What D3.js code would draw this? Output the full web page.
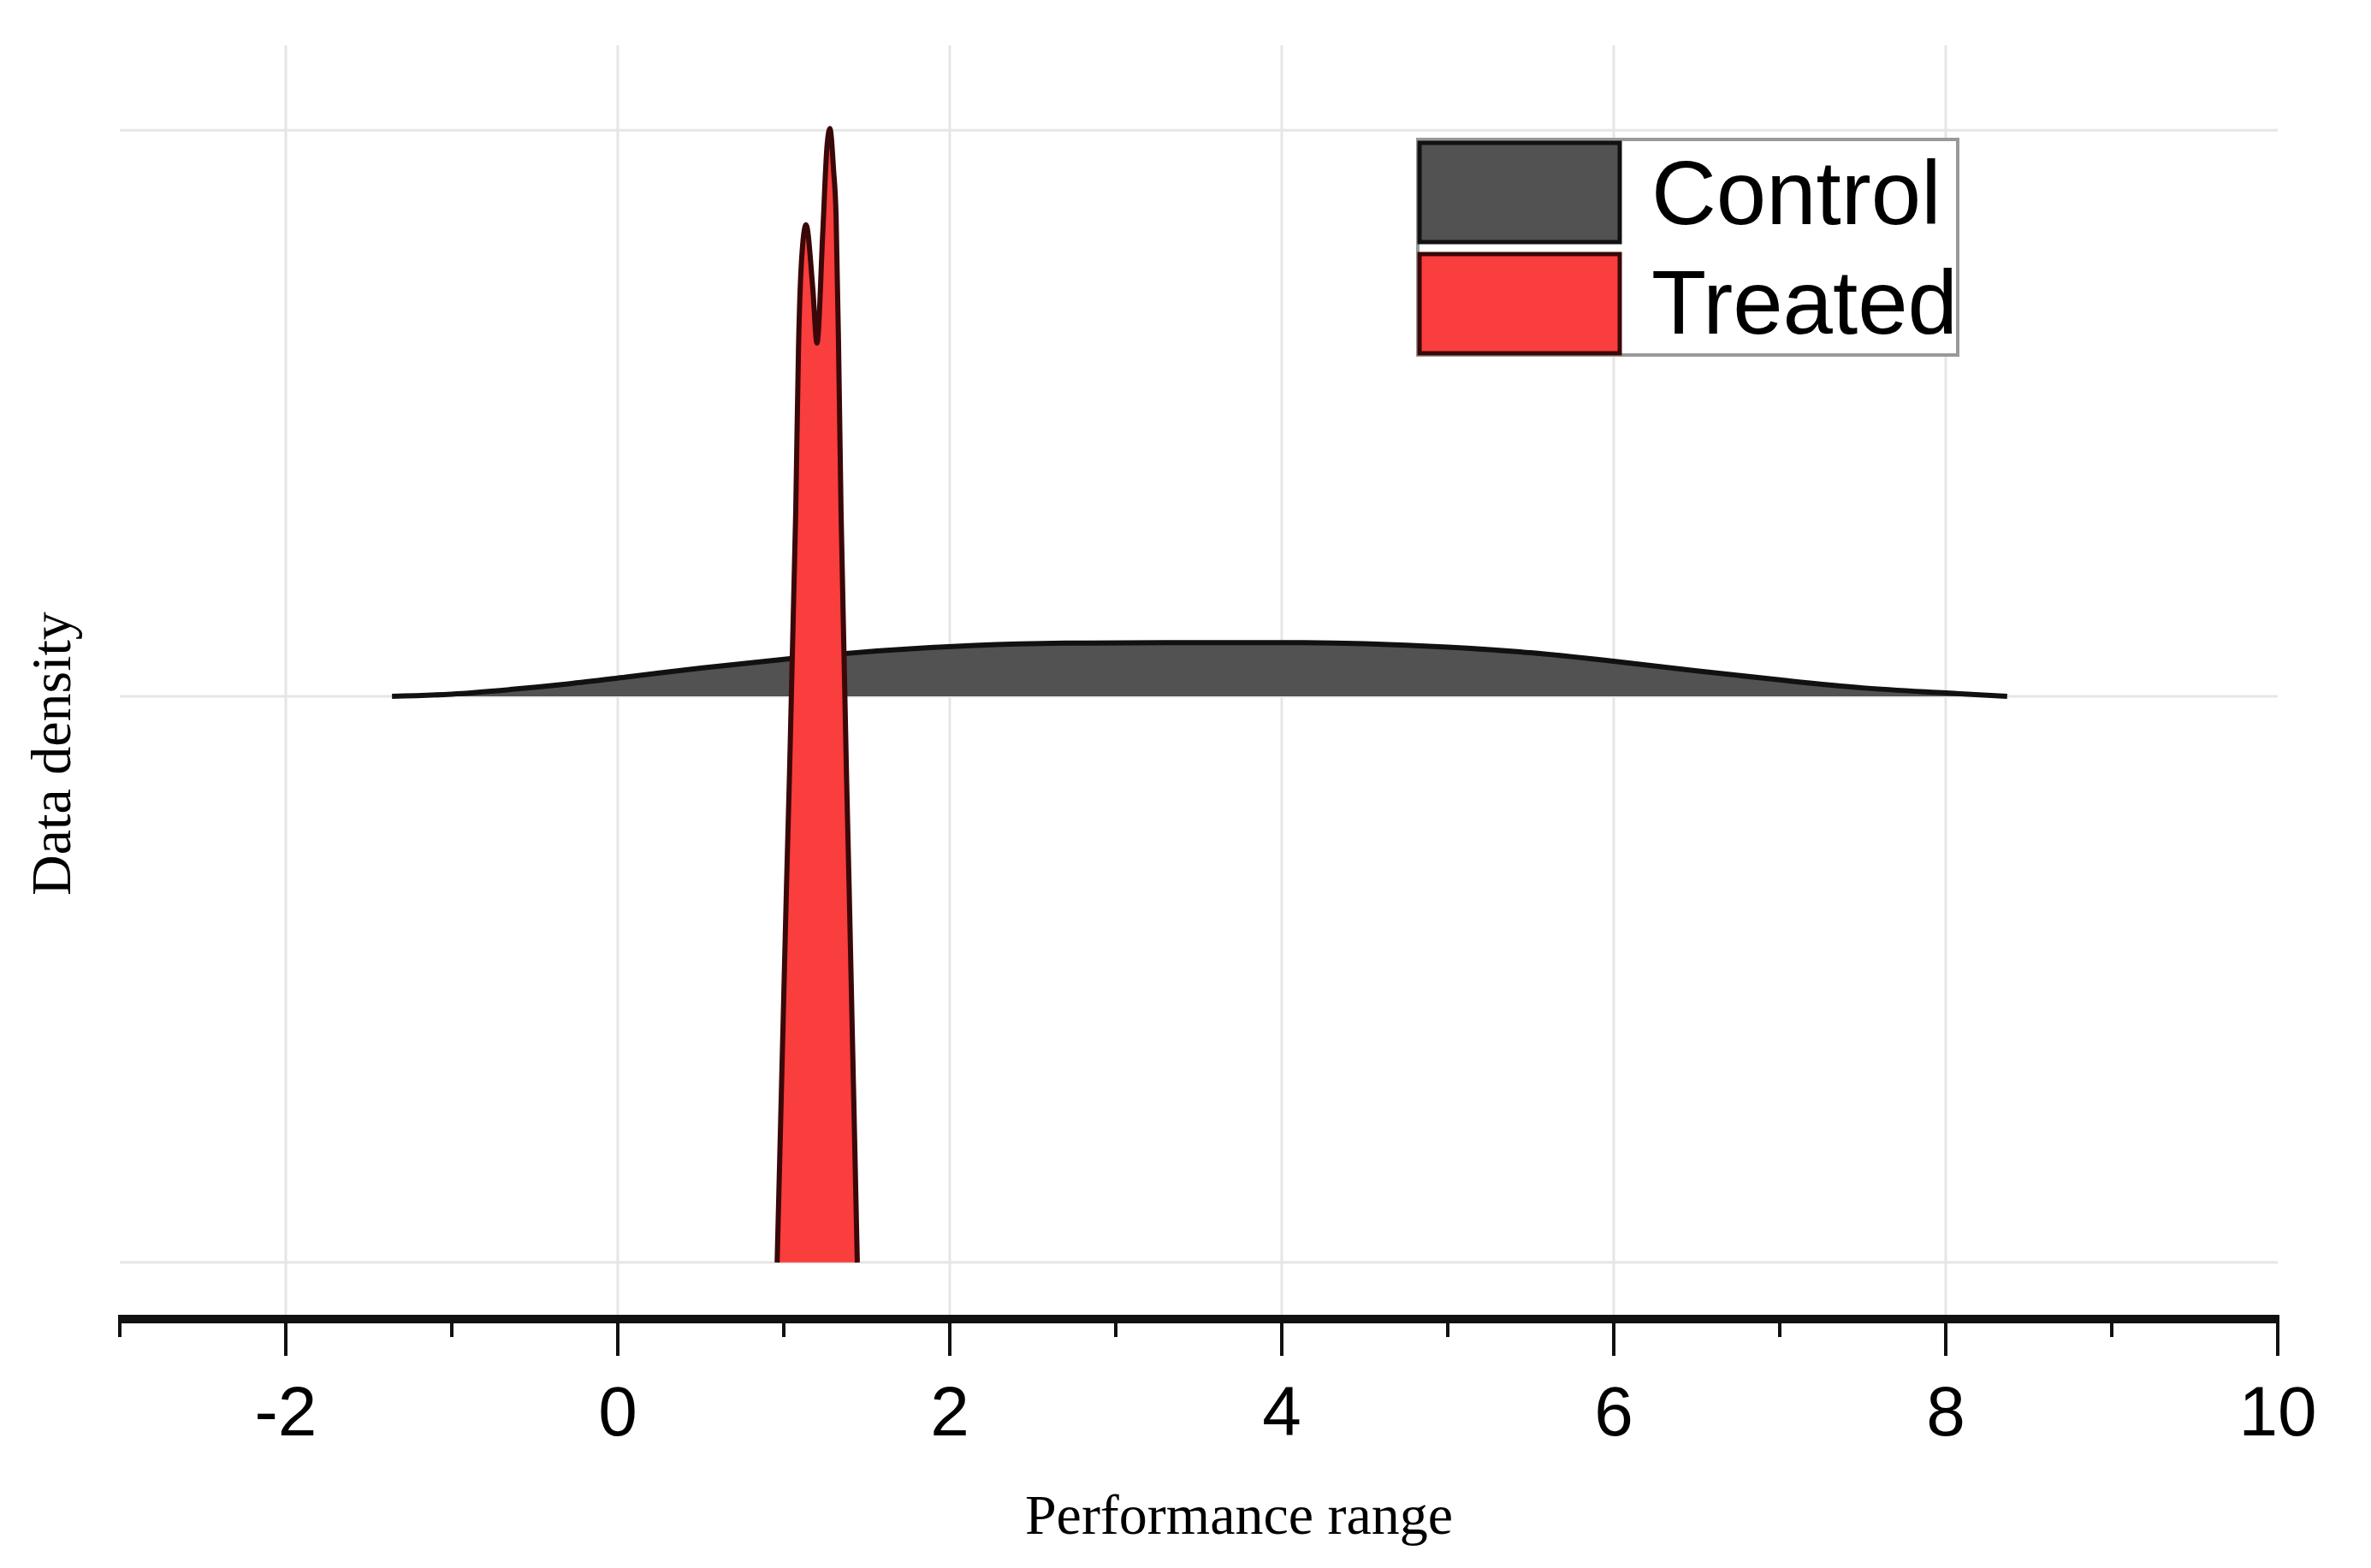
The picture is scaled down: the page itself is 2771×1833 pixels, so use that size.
<!DOCTYPE html>
<html>
<head>
<meta charset="utf-8">
<script src="https://cdn.jsdelivr.net/npm/d3@7"></script>
<style>
  html, body { margin: 0; padding: 0; background: #fff; }
</style>
</head>
<body>
<svg id="chart"></svg>
<script>
// x position of each density sample, and the density
const controlX = [-1.36, -1.0, -0.65, -0.3, 0.05, 0.5, 1.05, 1.6, 2.15, 2.7, 3.3, 4.0, 4.5, 5.0, 5.5, 6.0, 6.5, 7.0, 7.5, 8.0, 8.37];
const controlY = [0, 0.004, 0.012, 0.022, 0.034, 0.05, 0.067, 0.081, 0.09, 0.094, 0.095, 0.095, 0.093, 0.087, 0.077, 0.062, 0.045, 0.029, 0.015, 0.006, 0];

const treatedX = [0.96, 1.016, 1.072, 1.089, 1.107, 1.134, 1.175, 1.20, 1.235, 1.26, 1.278, 1.30, 1.315, 1.33, 1.345, 1.394, 1.443];
const treatedY = [0, 0.66, 1.326, 1.62, 1.77, 1.833, 1.72, 1.624, 1.82, 1.97, 2.003, 1.93, 1.85, 1.62, 1.326, 0.66, 0];

const groups = ["Control", "Treated"];
const groupOffset = [1, 0];       // ridge baseline of each group
const groupFill = ["#525252", "#fa3d3d"];
const groupEdge = ["#111111", "#3a0808"];

const xTicks = [-2, 0, 2, 4, 6, 8, 10];
const xMinor = [-3, -1, 1, 3, 5, 7, 9];
const yGrid = [0, 1, 2];

const W = 2771, H = 1833;
const svg = d3.select("#chart").attr("width", W).attr("height", H);

const x = d3.scaleLinear().domain([-3, 10]).range([140, 2662]);
const y = d3.scaleLinear().domain([-0.1, 2.15]).range([1542, 53]);

// grid
const grid = svg.append("g");
grid.selectAll(".vgrid")
  .data(xTicks.filter(d => d < 10))
  .join("line")
  .attr("x1", d => x(d)).attr("x2", d => x(d))
  .attr("y1", y(2.15)).attr("y2", y(-0.1))
  .attr("stroke", "#e6e6e6").attr("stroke-width", 3);
grid.selectAll(".hgrid")
  .data(yGrid)
  .join("line")
  .attr("x1", x(-3)).attr("x2", x(10))
  .attr("y1", d => y(d)).attr("y2", d => y(d))
  .attr("stroke", "#e6e6e6").attr("stroke-width", 3);

// ridges
const series = [
  { name: groups[0], pts: controlX.map((v, i) => ({ x: v, d: controlY[i] })) },
  { name: groups[1], pts: treatedX.map((v, i) => ({ x: v, d: treatedY[i] })) }
];

series.forEach((s, i) => {
  const off = groupOffset[i];
  const area = d3.area()
    .x(p => x(p.x))
    .y0(y(off))
    .y1(p => y(off + p.d))
    .curve(d3.curveMonotoneX);
  const line = d3.line()
    .x(p => x(p.x))
    .y(p => y(off + p.d))
    .curve(d3.curveMonotoneX);

  svg.append("path").datum(s.pts)
    .attr("d", area)
    .attr("fill", groupFill[i]);
  svg.append("path").datum(s.pts)
    .attr("d", line)
    .attr("fill", "none")
    .attr("stroke", groupEdge[i])
    .attr("stroke-width", 6)
    .attr("stroke-linejoin", "round");
});

// x axis
const axisG = svg.append("g").attr("transform", `translate(0,1542)`);
axisG.append("line")
  .attr("x1", x(-3) - 2).attr("x2", x(10) + 2)
  .attr("stroke", "#111").attr("stroke-width", 10);
axisG.selectAll(".major")
  .data([-3].concat(xTicks))
  .join("line")
  .attr("x1", d => x(d)).attr("x2", d => x(d))
  .attr("y1", 0).attr("y2", d => d === -3 ? 21 : 43)
  .attr("stroke", "#111").attr("stroke-width", 4);
axisG.selectAll(".minor")
  .data(xMinor.filter(d => d > -3))
  .join("line")
  .attr("x1", d => x(d)).attr("x2", d => x(d))
  .attr("y1", 0).attr("y2", 21)
  .attr("stroke", "#111").attr("stroke-width", 4);
axisG.selectAll("text")
  .data(xTicks)
  .join("text")
  .attr("x", d => x(d))
  .attr("y", 136)
  .attr("text-anchor", "middle")
  .attr("font-family", "Liberation Sans, Arial, sans-serif")
  .attr("font-size", 82)
  .attr("fill", "#000")
  .text(d => d);

// axis titles
svg.append("text")
  .attr("x", 1448).attr("y", 1793)
  .attr("text-anchor", "middle")
  .attr("font-family", "Liberation Serif, Times New Roman, serif")
  .attr("font-size", 66)
  .text("Performance range");

svg.append("text")
  .attr("transform", "translate(82,881) rotate(-90)")
  .attr("text-anchor", "middle")
  .attr("font-family", "Liberation Serif, Times New Roman, serif")
  .attr("font-size", 66)
  .text("Data density");

// legend
const legend = svg.append("g");
legend.append("rect")
  .attr("x", 1657).attr("y", 163).attr("width", 631).attr("height", 252)
  .attr("fill", "#fff").attr("stroke", "#999").attr("stroke-width", 4);
const rowY = [167, 297];
const rowBase = [262, 390];
groups.forEach((g, i) => {
  legend.append("rect")
    .attr("x", 1659).attr("y", rowY[i])
    .attr("width", 234).attr("height", 116)
    .attr("fill", groupFill[i])
    .attr("stroke", groupEdge[i]).attr("stroke-width", 5);
  legend.append("text")
    .attr("x", 1930).attr("y", rowBase[i])
    .attr("font-family", "Liberation Sans, Arial, sans-serif")
    .attr("font-size", 105)
    .attr("fill", "#000")
    .text(g);
});
</script>
</body>
</html>
